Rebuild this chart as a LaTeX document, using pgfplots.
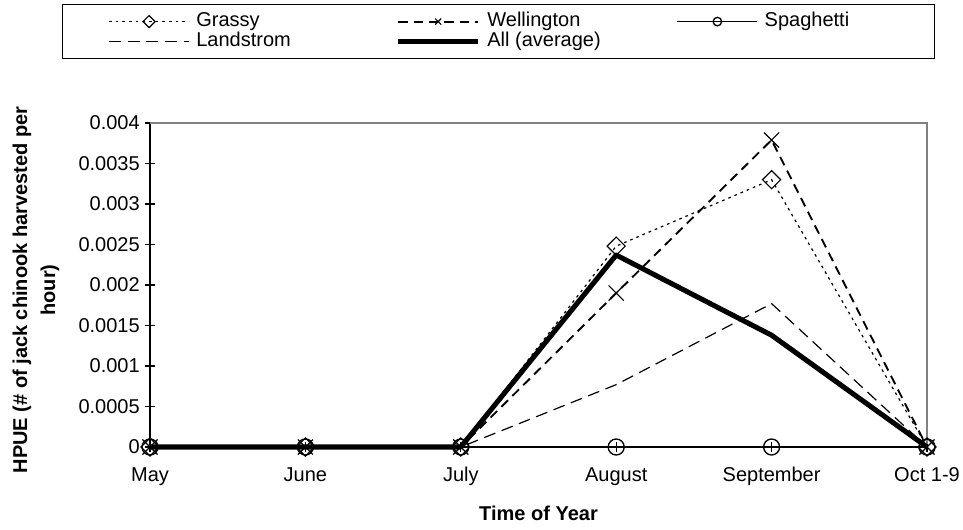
\documentclass[border=0pt]{standalone}
\usepackage{fontspec}
\setmainfont{Liberation Sans}
\usepackage{pgfplots}
\pgfplotsset{compat=1.18}
\begin{document}
\fontsize{15}{18}\selectfont
\begin{tikzpicture}
\useasboundingbox (-112.5pt,-61.5pt) rectangle (609.75pt,335.25pt);
\begin{axis}[
    at={(0pt,0pt)}, anchor=south west,
    scale only axis,
    width=582.75pt, height=243pt,
    xmin=0, xmax=5, ymin=0, ymax=0.004,
    clip=false,
    axis x line*=bottom, axis y line*=left,
    axis line style={black, line width=0.8pt, -},
    xtick={0,1,2,3,4,5},
    xticklabels={May,June,July,August,September,Oct 1-9},
    xticklabel style={anchor=north, text height=11pt, text depth=4pt, yshift=-6pt},
    ytick={0,0.0005,0.001,0.0015,0.002,0.0025,0.003,0.0035,0.004},
    scaled y ticks=false,
    yticklabel style={/pgf/number format/fixed, /pgf/number format/precision=4, xshift=1.5pt},
    /pgf/number format/assume math mode=true,
    tick align=center, major tick length=8pt,
    tick style={black, line width=0.8pt},
    xlabel={Time of Year},
    xlabel style={at={(axis description cs:0.5,-0.204)}, anchor=center, font=\bfseries},
    ylabel={HPUE (\# of jack chinook harvested per\\hour)},
    ylabel style={align=center, at={(axis description cs:-0.1467,0.4846)}, anchor=center,
        font=\fontsize{15}{21}\selectfont\bfseries},
    legend columns=3,
    legend cell align=left,
    legend style={at={(axis description cs:-0.1133,1.367)}, anchor=north west,
        draw=black, line width=0.75pt, inner xsep=34.5pt, inner ysep=5.25pt,
        nodes={inner sep=0pt, text height=11pt, text depth=4pt}},
    /tikz/every odd column/.append style={column sep=5pt},
    legend image code/.code={\draw[mark repeat=2,mark phase=2,#1,mark size=3.2pt]
        plot coordinates {(0pt,0pt) (30pt,0pt) (60pt,0pt)};},
]
\draw[gray, line width=0.8pt] (rel axis cs:0,1) -- (rel axis cs:1,1) -- (rel axis cs:1,0);

% Grassy
\addplot[black, line width=0.9pt, dash pattern=on 2pt off 3pt,
    mark=square, mark size=4.8pt, mark options={solid, rotate=45, fill=none}]
    coordinates {(0,0) (1,0) (2,0) (3,0.00248) (4,0.0033) (5,0)};
% Wellington
\addplot[black, line width=1.4pt, dash pattern=on 7pt off 4.5pt,
    mark=x, mark size=8pt, mark options={solid, line width=0.9pt}]
    coordinates {(0,0) (1,0) (2,0) (3,0.0019) (4,0.00379) (5,0)};
% Spaghetti
\addplot[black, line width=1pt, mark=o, mark size=6pt, mark options={solid, fill=none}]
    coordinates {(0,0) (1,0) (2,0) (3,0) (4,0) (5,0)};
% Landstrom
\addplot[black, line width=0.9pt, dash pattern=on 9pt off 5pt]
    coordinates {(0,0) (1,0) (2,0) (3,0.00077) (4,0.00177) (5,0)};
% All (average)
\addplot[black, line width=3.8pt, line join=round]
    coordinates {(0,0) (1,0) (2,0) (3,0.00237) (4,0.00138) (5,0)};

\legend{\makebox[149.5pt][l]{Grassy},\makebox[142pt][l]{Wellington},\makebox[92.5pt][l]{Spaghetti},
    Landstrom,All (average)}
\end{axis}
\end{tikzpicture}
\end{document}
